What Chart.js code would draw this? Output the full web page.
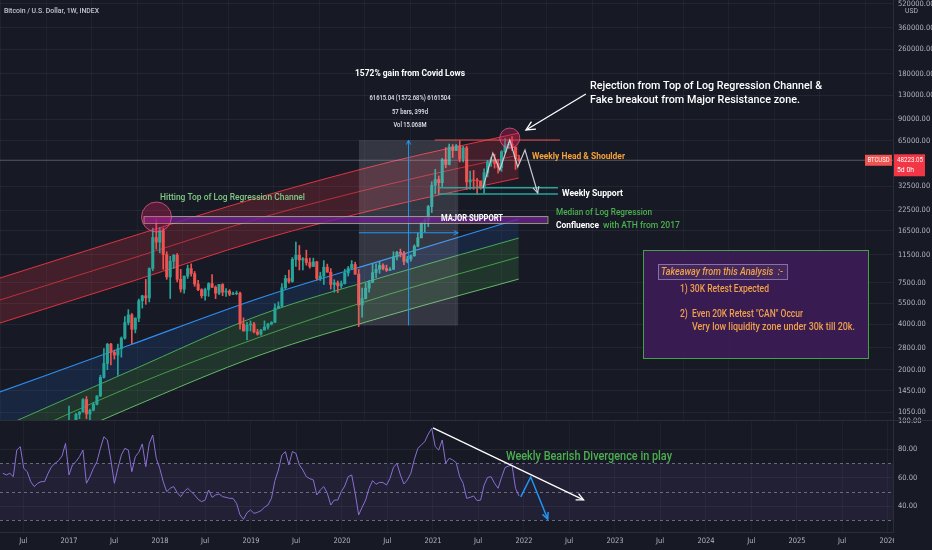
<!DOCTYPE html>
<html>
<head>
<meta charset="utf-8">
<script src="https://cdn.jsdelivr.net/npm/chart.js@4.4.1/dist/chart.umd.min.js"></script>
<style>
  html, body { margin: 0; padding: 0; background: #171a25; }
  #wrap { position: relative; width: 932px; height: 550px; overflow: hidden; }
  canvas { position: absolute; left: 0; }
  #priceChart { top: 0; }
  #rsiChart { top: 410px; }
</style>
</head>
<body>
<div id="wrap">
  <canvas id="priceChart" width="932" height="420"></canvas>
  <canvas id="rsiChart" width="932" height="140"></canvas>
</div>
<script>
// two-week candles, BTC/USD (period start dates)
const weeks = [
  '2016-04-03','2016-04-17','2016-05-01','2016-05-15','2016-05-29','2016-06-12','2016-06-26','2016-07-10','2016-07-24','2016-08-07',
  '2016-08-21','2016-09-04','2016-09-18','2016-10-02','2016-10-16','2016-10-30','2016-11-13','2016-11-27','2016-12-11','2016-12-25',
  '2017-01-08','2017-01-22','2017-02-05','2017-02-19','2017-03-05','2017-03-19','2017-04-02','2017-04-16','2017-04-30','2017-05-14',
  '2017-05-28','2017-06-11','2017-06-25','2017-07-09','2017-07-23','2017-08-06','2017-08-20','2017-09-03','2017-09-17','2017-10-01',
  '2017-10-15','2017-10-29','2017-11-12','2017-11-26','2017-12-10','2017-12-24',
  '2018-01-07','2018-01-21','2018-02-04','2018-02-18','2018-03-04','2018-03-18','2018-04-01','2018-04-15','2018-04-29','2018-05-13',
  '2018-05-27','2018-06-10','2018-06-24','2018-07-08','2018-07-22','2018-08-05','2018-08-19','2018-09-02','2018-09-16','2018-09-30',
  '2018-10-14','2018-10-28','2018-11-11','2018-11-25','2018-12-09','2018-12-23',
  '2019-01-06','2019-01-20','2019-02-03','2019-02-17','2019-03-03','2019-03-17','2019-03-31','2019-04-14','2019-04-28','2019-05-12',
  '2019-05-26','2019-06-09','2019-06-23','2019-07-07','2019-07-21','2019-08-04','2019-08-18','2019-09-01','2019-09-15','2019-09-29',
  '2019-10-13','2019-10-27','2019-11-10','2019-11-24','2019-12-08','2019-12-22',
  '2020-01-05','2020-01-19','2020-02-02','2020-02-16','2020-03-01','2020-03-15','2020-03-29','2020-04-12','2020-04-26','2020-05-10',
  '2020-05-24','2020-06-07','2020-06-21','2020-07-05','2020-07-19','2020-08-02','2020-08-16','2020-08-30','2020-09-13','2020-09-27',
  '2020-10-11','2020-10-25','2020-11-08','2020-11-22','2020-12-06','2020-12-20',
  '2021-01-03','2021-01-17','2021-01-31','2021-02-14','2021-02-28','2021-03-14','2021-03-28','2021-04-11','2021-04-25','2021-05-09',
  '2021-05-23','2021-06-06','2021-06-20','2021-07-04','2021-07-18','2021-08-01','2021-08-15','2021-08-29','2021-09-12','2021-09-26',
  '2021-10-10','2021-10-24','2021-11-07','2021-11-21','2021-12-05'
];
const firstOpen = 420;
const closes = [
  430,450,455,525,590,630,650,660,590,580,600,608,612,640,700,705,735,770,890,910,
  920,1015,1050,1270,1020,1080,1180,1340,1780,2200,2950,2600,2500,2750,3230,4100,4600,3700,4380,5700,6150,5950,9300,14900,13900,16500,
  11500,8200,10400,11400,7900,6800,8300,9300,8600,7350,6750,6150,6750,7400,7000,6400,7300,6500,6600,6300,6350,6400,4000,3600,3950,4000,
  3550,3430,3650,3820,4000,4100,5100,5250,6950,8000,7650,10700,11400,10600,10800,10200,9600,10300,8000,8300,9500,8800,7300,7500,7150,7400,
  8700,9350,9900,8550,5350,5900,6900,7550,8750,9200,9750,9300,9050,9200,11100,11900,11700,10350,10750,11300,13050,14850,18650,19350,23850,33000,
  36000,34300,48700,45200,59000,55900,60000,49000,58200,34700,35800,35600,35300,31800,39900,47000,48800,46000,43200,55000,60900,61500,58700,49400,48223.05
];
const highs = [
  432,466,462,535,600,780,700,680,665,600,610,630,615,645,720,745,760,775,900,1150,
  925,1030,1060,1290,1330,1100,1215,1350,1840,2760,2980,2980,2700,2950,3290,4480,4980,4700,4400,5850,6200,7900,9400,17200,19800,17400,
  17200,12000,11200,11500,11700,9200,8300,9800,9980,8900,7780,6850,6900,7500,8500,7150,7300,7400,6850,6750,6500,6600,6500,4400,4100,4200,
  4100,3700,3700,4200,4050,4150,5450,5600,7400,8400,9100,11000,13900,13200,11000,12300,10900,10900,10400,8800,10500,9950,9300,7850,7700,7700,
  9200,9600,10500,10250,9200,6900,7450,7750,10050,10000,10400,10000,9800,9450,12000,12100,12500,12100,11200,11450,13350,15950,18800,19900,24300,34800,
  42000,38000,49700,58400,61700,61200,61300,64900,59500,59600,40900,41300,36600,35000,42400,48100,50500,52900,48800,55800,67000,63700,69000,59200,51900
];
const lows = [
  414,428,440,438,520,550,600,640,480,560,565,595,590,605,630,690,700,730,765,880,
  750,880,950,1050,950,890,1070,1170,1330,1760,2000,2150,2350,1830,2420,3180,3950,2970,3500,4150,5100,5400,5600,9000,12500,11800,
  9200,7900,5900,9300,7600,6500,6400,8000,8300,7100,6650,5950,5750,6100,6950,5880,6250,6150,6100,6150,6250,6250,3700,3600,3150,3600,
  3500,3380,3370,3650,3700,3950,4100,5050,5200,6800,7450,7550,9600,9100,9100,9800,9350,9600,7800,7750,7300,8800,6800,6500,6450,6900,
  7350,8300,9150,8500,3850,4450,5850,6500,7500,8100,8650,9100,8900,9050,9150,10600,11100,9850,10150,10400,11200,12900,14800,16200,17600,21800,
  29000,28800,32300,43000,44900,50300,55900,47000,47100,31000,31100,31000,28800,31000,29300,37500,43900,42800,39600,40700,53900,57800,56000,42000,46800
];
// weekly RSI(14), one reading per two-week period
const rsi = [
  63.1,61.9,63.1,60.7,79.5,81.9,66.6,64.2,57.2,53.7,56.0,57.2,57.2,63.1,67.8,70.1,72.0,75.3,84.2,61.9,
  69.0,71.3,74.8,79.5,56.0,60.7,66.6,71.3,80.7,88.9,86.6,72.5,56.0,66.6,76.0,80.7,79.5,64.2,74.8,77.9,83.8,67.8,84.2,90.1,73.7,66.6,
  57.2,50.1,52.5,53.7,49.4,46.6,50.1,52.5,50.1,47.8,44.7,43.1,44.2,51.3,46.1,47.8,48.5,46.6,46.1,45.4,45.4,41.9,33.7,30.6,35.3,37.2,
  34.8,35.5,36.7,39.1,40.7,45.4,57.9,65.4,76.0,78.4,69.0,78.4,77.2,69.0,65.4,60.7,59.3,58.4,47.8,51.3,53.7,49.0,40.7,44.2,44.2,50.1,
  54.1,60.7,61.9,49.0,33.7,39.1,44.2,52.5,57.9,55.3,56.7,56.5,54.8,59.5,67.3,70.1,61.9,55.5,58.4,63.1,72.9,80.7,83.1,85.4,90.8,94.8,
  81.9,79.5,86.6,70.1,73.7,72.5,70.6,60.7,56.0,45.4,46.1,47.1,43.8,44.2,54.8,60.2,60.7,56.0,52.5,60.2,67.1,68.2,68.9,52.5,47.1
];
const rsiLevels = [70, 50, 30];

// log regression channel, read at five dates
const bandDates = ['2016-03-29', '2017-09-02', '2019-02-06', '2020-07-11', '2021-12-11'];
const redTop = [8050, 15020, 27580, 46950, 72950];
const redMid = [5762, 10740, 20040, 33600, 52240];
const redLow = [4064, 7575, 14340, 24040, 36800];
const blueMid = [1424, 2908, 5943, 10910, 19740];
const greenTop = [824, 1959, 4587, 8430, 14790];
const greenMid = [636, 1536, 3284, 6313, 11080];
const greenLow = [469, 1117, 2498, 4587, 7930];

// axes
const xTickDates = ['2016-07-01','2017-01-01','2017-07-01','2018-01-01','2018-07-01','2019-01-01','2019-07-01','2020-01-01','2020-07-01',
  '2021-01-01','2021-07-01','2022-01-01','2022-07-01','2023-01-01','2023-07-01','2024-01-01','2024-07-01','2025-01-01','2025-07-01','2026-01-01'];
const xTickLabels = ['Jul','2017','Jul','2018','Jul','2019','Jul','2020','Jul','2021','Jul','2022','Jul','2023','Jul','2024','Jul','2025','Jul','2026'];
const priceTicks = [520000, 360000, 260000, 180000, 130000, 90000, 65000, 32500, 22500, 16500, 11500, 7500, 5500, 4000, 2800, 2000, 1450, 1050];
const rsiTicks = [40, 60, 80, 100];

// drawings on the chart
const supportZone = [18580, 20650], zoneDates = ['2017-10-27', '2022-04-05'];
const resistance = 65600, resistanceDates = ['2021-01-08', '2022-05-25'];
const weeklySupport = [31770, 28880], weeklySupportDates = ['2021-01-20', '2022-05-17'];
const measureDates = ['2020-03-09', '2021-04-12'], measurePrices = [3918, 65533];
const circles = [['2017-12-18', 20360, 15], ['2021-11-05', 67600, 10]];
const headShoulder = [['2021-07-20', 31600], ['2021-08-29', 53860], ['2021-09-26', 41600], ['2021-11-05', 65600],
  ['2021-12-07', 43530], ['2022-01-05', 56360], ['2022-02-25', 29310]];
const rejectionArrow = [['2022-09-06', 132000], ['2022-01-09', 76400]];
const rsiTrend = [['2021-01-01', 95.1], ['2022-08-28', 44.3]];
const rsiPath = [['2021-12-19', 46.4], ['2022-01-28', 60.5], ['2022-04-06', 30.8]];

const X_MIN = 2016.2418, X_MAX = 2026.055;
const HALF_PERIOD = 7 / 365.25;
const AXIS_W = 39;
const FONT = 'Roboto, "Noto Sans", sans-serif';
const NARROW = '"Liberation Sans Narrow", "DejaVu Sans Condensed", Roboto, sans-serif';
const gridColor = 'rgba(255,255,255,0.055)';
const axisText = '#b2b5be';

function toYear(d) {
  const p = d.split('-').map(Number);
  const start = Date.UTC(p[0], 0, 1), end = Date.UTC(p[0] + 1, 0, 1);
  return p[0] + (Date.UTC(p[0], p[1] - 1, p[2]) - start) / (end - start);
}

// text squeezed or stretched to the width it has on the original
function text(ctx, s, x, y, o) {
  ctx.font = (o.style || '') + ' ' + (o.weight || 400) + ' ' + o.size + 'px ' + FONT;
  const w0 = ctx.measureText(s).width;
  const w = o.w || w0;
  const left = o.align === 'center' ? x - w / 2 : x;
  ctx.save();
  ctx.fillStyle = o.color || '#ffffff';
  ctx.textAlign = 'left';
  ctx.textBaseline = 'middle';
  ctx.translate(left, y);
  ctx.scale(w / w0, 1);
  ctx.fillText(s, 0, 0);
  ctx.restore();
}

function arrowHead(ctx, x0, y0, x1, y1, len) {
  const a = Math.atan2(y1 - y0, x1 - x0);
  ctx.beginPath();
  ctx.moveTo(x1 - len * Math.cos(a - 0.45), y1 - len * Math.sin(a - 0.45));
  ctx.lineTo(x1, y1);
  ctx.lineTo(x1 - len * Math.cos(a + 0.45), y1 - len * Math.sin(a + 0.45));
  ctx.stroke();
}

const candleX = weeks.map(d => toYear(d) + HALF_PERIOD);
const opens = closes.map((c, i) => i === 0 ? firstOpen : closes[i - 1]);
const candleColors = closes.map((c, i) => c >= opens[i] ? '#26a69a' : '#ef5350');

function band(values, color, width, fill, fillColor) {
  return {
    type: 'line',
    data: bandDates.map((d, i) => ({x: toYear(d), y: values[i]})),
    borderColor: color, borderWidth: width, pointRadius: 0,
    cubicInterpolationMode: 'monotone',
    fill: fill, backgroundColor: fillColor || 'transparent',
    order: 3
  };
}

const priceNotes = {
  id: 'priceNotes',
  afterDatasetsDraw(chart) {
    const {ctx, scales: {x, y}, chartArea: a} = chart;
    const at = (d, p) => [x.getPixelForValue(toYear(d)), y.getPixelForValue(p)];
    ctx.save();

    // last price line
    const lp = y.getPixelForValue(closes[closes.length - 1]);
    ctx.strokeStyle = 'rgba(200,200,210,0.35)';
    ctx.lineWidth = 1;
    ctx.beginPath(); ctx.moveTo(a.left, lp); ctx.lineTo(a.right, lp); ctx.stroke();

    // measure box from covid low
    let [mx1, my1] = at(measureDates[0], measurePrices[1]);
    let [mx2, my2] = at(measureDates[1], measurePrices[0]);
    ctx.fillStyle = 'rgba(205,208,220,0.16)';
    ctx.fillRect(mx1, my1, mx2 - mx1, my2 - my1);
    ctx.strokeStyle = '#2196f3';
    const mcx = (mx1 + mx2) / 2, mcy = (my1 + my2) / 2;
    ctx.beginPath(); ctx.moveTo(mcx, my2); ctx.lineTo(mcx, my1); ctx.stroke();
    arrowHead(ctx, mcx, my2, mcx, my1, 5);
    ctx.beginPath(); ctx.moveTo(mx1, mcy); ctx.lineTo(mx2, mcy); ctx.stroke();
    arrowHead(ctx, mx1, mcy, mx2, mcy, 5);

    // major support zone
    let [zx1, zy1] = at(zoneDates[0], supportZone[1]);
    let [zx2, zy2] = at(zoneDates[1], supportZone[0]);
    ctx.fillStyle = 'rgba(110,30,150,0.8)';
    ctx.fillRect(zx1, zy1, zx2 - zx1, zy2 - zy1);
    ctx.strokeStyle = 'rgba(170,210,120,0.75)';
    ctx.strokeRect(zx1 + 0.5, zy1 + 0.5, zx2 - zx1, zy2 - zy1);

    // major resistance
    let [rx1, ry] = at(resistanceDates[0], resistance);
    let [rx2] = at(resistanceDates[1], resistance);
    ctx.strokeStyle = '#ef5350';
    ctx.beginPath(); ctx.moveTo(rx1, ry); ctx.lineTo(rx2, ry); ctx.stroke();

    // weekly support
    ctx.strokeStyle = '#26a69a';
    ctx.lineWidth = 1.5;
    weeklySupport.forEach(p => {
      const [sx1, sy] = at(weeklySupportDates[0], p);
      const [sx2] = at(weeklySupportDates[1], p);
      ctx.beginPath(); ctx.moveTo(sx1, sy); ctx.lineTo(sx2, sy); ctx.stroke();
    });

    // circles
    ctx.lineWidth = 1;
    circles.forEach(c => {
      const [cx, cy] = at(c[0], c[1]);
      ctx.beginPath(); ctx.arc(cx, cy, c[2], 0, Math.PI * 2);
      ctx.fillStyle = 'rgba(233,30,99,0.3)'; ctx.fill();
      ctx.strokeStyle = 'rgba(240,98,146,0.7)'; ctx.stroke();
    });

    // head & shoulder projection
    ctx.strokeStyle = 'rgba(215,215,225,0.9)';
    ctx.lineWidth = 1.2;
    const hs = headShoulder.map(p => at(p[0], p[1]));
    ctx.beginPath();
    hs.forEach((p, i) => i ? ctx.lineTo(p[0], p[1]) : ctx.moveTo(p[0], p[1]));
    ctx.stroke();
    const n = hs.length;
    arrowHead(ctx, hs[n - 2][0], hs[n - 2][1], hs[n - 1][0], hs[n - 1][1], 7);

    // rejection arrow
    const ra = rejectionArrow.map(p => at(p[0], p[1]));
    ctx.strokeStyle = '#ffffff';
    ctx.lineWidth = 1.3;
    ctx.beginPath(); ctx.moveTo(ra[0][0], ra[0][1]); ctx.lineTo(ra[1][0], ra[1][1]); ctx.stroke();
    arrowHead(ctx, ra[0][0], ra[0][1], ra[1][0], ra[1][1], 10);
    ctx.restore();
  },
  afterDraw(chart) {
    const {ctx, scales: {y}, chartArea: a} = chart;
    ctx.save();
    // takeaway box
    ctx.fillStyle = 'rgba(62,28,88,0.88)';
    ctx.fillRect(643, 250, 225, 108);
    ctx.strokeStyle = '#43a047'; ctx.lineWidth = 1;
    ctx.strokeRect(643.5, 250.5, 225, 108);
    ctx.fillStyle = 'rgba(255,255,255,0.06)';
    ctx.fillRect(658, 264, 129, 15);
    ctx.strokeStyle = 'rgba(170,140,210,0.7)';
    ctx.strokeRect(658.5, 264.5, 129, 15);
    const orange = '#f0a04b';
    text(ctx, 'Takeaway from this Analysis  :-', 661, 272, {size: 10, style: 'italic', weight: 500, color: orange, w: 122});
    text(ctx, '1) 30K Retest Expected', 680, 289, {size: 10, weight: 500, color: orange, w: 89});
    text(ctx, '2)  Even 20K Retest "CAN" Occur', 680, 314, {size: 10, weight: 500, color: orange, w: 123});
    text(ctx, 'Very low liquidity zone under 30k till 20k.', 692, 327, {size: 10, weight: 500, color: orange, w: 163});

    // other notes
    text(ctx, 'Bitcoin / U.S. Dollar, 1W, INDEX', 4, 11, {size: 7.5, weight: 500, color: '#c3c6ce', w: 95});
    text(ctx, '1572% gain from Covid Lows', 410, 74, {size: 8.5, weight: 700, align: 'center', w: 110});
    text(ctx, '61615.04 (1572.68%) 6161504', 410, 98, {size: 7, weight: 500, color: '#e0e3eb', align: 'center', w: 81});
    text(ctx, '57 bars, 399d', 410, 112, {size: 7, weight: 500, color: '#e0e3eb', align: 'center', w: 36});
    text(ctx, 'Vol 15.068M', 410, 125, {size: 7, weight: 500, color: '#e0e3eb', align: 'center', w: 33});
    text(ctx, 'Rejection from Top of Log Regression Channel &', 590, 86, {size: 11.5, weight: 500, w: 232});
    text(ctx, 'Fake breakout from Major Resistance zone.', 590, 100, {size: 11.5, weight: 500, w: 210});
    text(ctx, 'Hitting Top of Log Regression Channel', 160, 198, {size: 9.5, weight: 500, color: '#81c784', w: 145});
    text(ctx, 'Weekly Head & Shoulder', 532, 157, {size: 9.5, weight: 700, color: '#f5a13a', w: 93});
    text(ctx, 'Weekly Support', 562, 194, {size: 9.5, weight: 700, w: 61});
    text(ctx, 'MAJOR SUPPORT', 441, 219, {size: 9, weight: 700, w: 62});
    text(ctx, 'Median of Log Regression', 556, 213, {size: 9.5, weight: 500, color: '#4caf50', w: 96});
    text(ctx, 'Confluence', 556, 226, {size: 9.5, weight: 700, w: 43});
    text(ctx, 'with ATH from 2017', 603, 226, {size: 9.5, weight: 500, color: '#4caf50', w: 77});

    // axis caption and last price tags
    text(ctx, 'USD', a.right + 12, 11, {size: 7, color: axisText, w: 13});
    const lp = y.getPixelForValue(closes[closes.length - 1]);
    ctx.fillStyle = '#ef5350';
    ctx.fillRect(865, lp - 5.5, 27, 11);
    text(ctx, 'BTCUSD', 878.5, lp, {size: 7, color: '#ffffff', align: 'center', w: 22});
    ctx.fillStyle = '#f23645';
    ctx.fillRect(a.right + 1, lp - 6, 31, 22);
    text(ctx, closes[closes.length - 1].toFixed(2), a.right + 4, lp, {size: 7.5, color: '#ffffff', w: 26});
    text(ctx, '5d 0h', a.right + 4, lp + 10, {size: 7.5, color: '#ffffff', w: 17});
    ctx.restore();
  }
};

new Chart(document.getElementById('priceChart'), {
  type: 'bar',
  data: {
    datasets: [
      band(redTop, 'rgba(242,54,69,0.9)', 1, 2, 'rgba(242,54,69,0.2)'),
      band(redMid, 'rgba(242,54,69,0.7)', 1, false),
      band(redLow, 'rgba(242,54,69,0.9)', 1, false),
      band(blueMid, '#2e8ef0', 1.2, 4, 'rgba(33,110,220,0.15)'),
      band(greenTop, '#4caf50', 1, 6, 'rgba(76,175,80,0.18)'),
      band(greenMid, 'rgba(76,175,80,0.85)', 1, false),
      band(greenLow, '#66bb6a', 1, false),
      {
        data: candleX.map((t, i) => ({x: t, y: [lows[i], highs[i]]})),
        backgroundColor: candleColors, barThickness: 1, grouped: false, order: 2
      },
      {
        data: candleX.map((t, i) => ({x: t, y: [opens[i], closes[i]]})),
        backgroundColor: candleColors, barThickness: 2.4, grouped: false, order: 1
      }
    ]
  },
  options: {
    responsive: false, animation: false, events: [],
    layout: {padding: 0},
    plugins: {legend: {display: false}, tooltip: {enabled: false}},
    scales: {
      x: {
        type: 'linear', min: X_MIN, max: X_MAX, offset: false,
        grid: {color: 'rgba(255,255,255,0.035)', drawTicks: false},
        border: {display: false},
        ticks: {display: false},
        afterBuildTicks: s => { s.ticks = xTickDates.map(d => ({value: toYear(d)})); },
        afterFit: s => { s.height = 0; s.paddingLeft = 0; s.paddingRight = 0; }
      },
      y: {
        type: 'logarithmic', position: 'right', min: 931, max: 550900,
        grid: {color: gridColor, drawTicks: false},
        border: {color: '#2a2e39'},
        ticks: {color: axisText, font: {family: NARROW, size: 7.5}, padding: 5, autoSkip: false,
          callback: v => v.toFixed(2)},
        afterBuildTicks: s => { s.ticks = priceTicks.map(v => ({value: v})); },
        afterFit: s => { s.width = AXIS_W; s.paddingTop = 0; s.paddingBottom = 0; }
      }
    }
  },
  plugins: [priceNotes]
});

const rsiNotes = {
  id: 'rsiNotes',
  beforeDatasetsDraw(chart) {
    const {ctx, chartArea: a, scales: {y}} = chart;
    ctx.save();
    const top = y.getPixelForValue(rsiLevels[0]), bot = y.getPixelForValue(rsiLevels[2]);
    ctx.fillStyle = 'rgba(126,87,194,0.1)';
    ctx.fillRect(a.left, top, a.right - a.left, bot - top);
    ctx.setLineDash([3, 3]);
    ctx.strokeStyle = 'rgba(170,170,190,0.55)';
    ctx.lineWidth = 1;
    rsiLevels.forEach(v => {
      const py = Math.round(y.getPixelForValue(v)) + 0.5;
      ctx.beginPath(); ctx.moveTo(a.left, py); ctx.lineTo(a.right, py); ctx.stroke();
    });
    ctx.restore();
  },
  afterDraw(chart) {
    const {ctx, chartArea: a, scales: {x, y}} = chart;
    const at = (d, v) => [x.getPixelForValue(toYear(d)), y.getPixelForValue(v)];
    ctx.save();
    // pane separator
    ctx.strokeStyle = '#2a2e39'; ctx.lineWidth = 1;
    ctx.beginPath(); ctx.moveTo(0, a.top + 0.5); ctx.lineTo(932, a.top + 0.5); ctx.stroke();
    // divergence trend line
    const t = rsiTrend.map(p => at(p[0], p[1]));
    ctx.strokeStyle = '#ffffff'; ctx.lineWidth = 1.3;
    ctx.beginPath(); ctx.moveTo(t[0][0], t[0][1]); ctx.lineTo(t[1][0], t[1][1]); ctx.stroke();
    arrowHead(ctx, t[0][0], t[0][1], t[1][0], t[1][1], 8);
    // projected path
    const p = rsiPath.map(q => at(q[0], q[1]));
    ctx.strokeStyle = '#2196f3'; ctx.lineWidth = 1.5;
    ctx.beginPath();
    p.forEach((q, i) => i ? ctx.lineTo(q[0], q[1]) : ctx.moveTo(q[0], q[1]));
    ctx.stroke();
    arrowHead(ctx, p[1][0], p[1][1], p[2][0], p[2][1], 7);
    text(ctx, 'Weekly Bearish Divergence in play', 506, a.top + 37, {size: 12, weight: 500, color: '#4caf50', w: 166});
    // cut the last date label at the price axis
    ctx.fillStyle = '#171a25';
    ctx.fillRect(a.right + 1, a.bottom + 1, 932 - a.right, 140 - a.bottom);
    ctx.restore();
  }
};

new Chart(document.getElementById('rsiChart'), {
  type: 'line',
  data: {
    datasets: [{
      data: candleX.map((t, i) => ({x: t, y: rsi[i]})),
      borderColor: '#8b6fd3', borderWidth: 1, pointRadius: 0, tension: 0
    }]
  },
  options: {
    responsive: false, animation: false, events: [],
    layout: {padding: {top: 10, left: 0, right: 0, bottom: 0}},
    plugins: {legend: {display: false}, tooltip: {enabled: false}},
    scales: {
      x: {
        type: 'linear', min: X_MIN, max: X_MAX, offset: false,
        grid: {color: 'rgba(255,255,255,0.035)', drawTicks: false},
        border: {color: '#2a2e39'},
        ticks: {color: axisText, font: {family: NARROW, size: 7.5}, padding: 5, autoSkip: false, maxRotation: 0,
          callback: (v, i) => xTickLabels[i]},
        afterBuildTicks: s => { s.ticks = xTickDates.map(d => ({value: toYear(d)})); },
        afterFit: s => { s.height = 18; s.paddingLeft = 0; s.paddingRight = 0; }
      },
      y: {
        type: 'linear', position: 'right', min: 21.65, max: 100.7,
        grid: {color: gridColor, drawTicks: false},
        border: {color: '#2a2e39'},
        ticks: {color: axisText, font: {family: NARROW, size: 7.5}, padding: 5, autoSkip: false,
          callback: v => v.toFixed(2)},
        afterBuildTicks: s => { s.ticks = rsiTicks.map(v => ({value: v})); },
        afterFit: s => { s.width = AXIS_W; s.paddingTop = 0; s.paddingBottom = 0; }
      }
    }
  },
  plugins: [rsiNotes]
});
</script>
</body>
</html>
